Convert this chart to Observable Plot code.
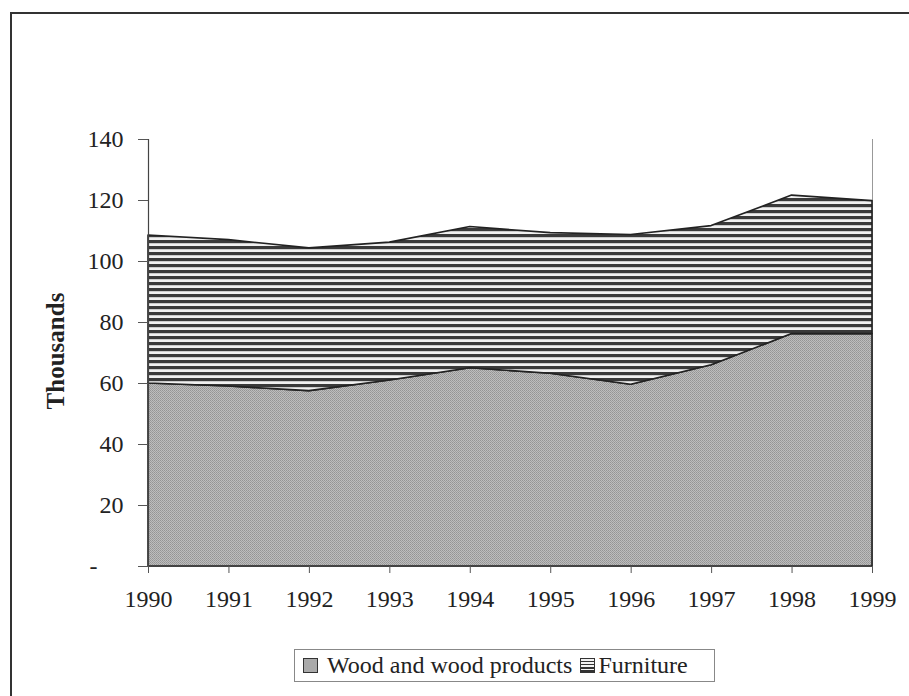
<!DOCTYPE html>
<html>
<head>
<meta charset="utf-8">
<script src="https://cdn.jsdelivr.net/npm/d3@7"></script>
<script src="https://cdn.jsdelivr.net/npm/@observablehq/plot@0.6"></script>
<style>
  html, body { margin: 0; padding: 0; background: #fff; }
  #wrap { position: relative; width: 909px; height: 696px; overflow: hidden; font-family: "Liberation Serif", "Times New Roman", serif; }
  #frame { position: absolute; left: 10px; top: 12px; width: 940px; height: 720px; border-left: 2px solid #333; border-top: 2px solid #333; }
  #chart { position: absolute; left: 0; top: 0; }
  #legend { position: absolute; left: 294px; top: 649px; width: 421px; height: 33px; border: 1px solid #888; box-sizing: border-box;
            display: flex; align-items: center; font-size: 24px; color: #222; white-space: nowrap; }
  .sw { display: inline-block; width: 15px; height: 15px; border: 1.5px solid #333; box-sizing: border-box; }
  .sw.wood { background: #aaa; margin-left: 8px; margin-right: 9px; }
  .sw.furn { background: repeating-linear-gradient(to bottom, #f2f2f2 0px, #f2f2f2 1.6px, #333 1.6px, #333 3.2px); margin-left: 8px; margin-right: 3px; }
</style>
</head>
<body>
<div id="wrap">
  <div id="frame"></div>
  <div id="chart"></div>
  <div id="legend"></div>
</div>
<script>
const years = [1990, 1991, 1992, 1993, 1994, 1995, 1996, 1997, 1998, 1999];
const seriesNames = ["Wood and wood products", "Furniture"];
const wood =      [60.0, 59.0, 57.5, 61.0, 65.0, 63.2, 59.6, 66.0, 76.2, 76.2];
const furniture = [48.5, 48.0, 46.8, 45.2, 46.3, 46.1, 49.1, 45.6, 45.4, 43.6];
const yTicks = [0, 20, 40, 60, 80, 100, 120, 140];
const yTickLabels = ["-", "20", "40", "60", "80", "100", "120", "140"];
const yTitle = "Thousands";

const data = years.flatMap((yr, i) => [
  {year: yr, series: seriesNames[0], value: wood[i]},
  {year: yr, series: seriesNames[1], value: furniture[i]}
]);

const svg = Plot.plot({
  width: 909,
  height: 696,
  marginLeft: 148,
  marginRight: 37,
  marginTop: 139,
  marginBottom: 130,
  style: {fontFamily: "'Liberation Serif', 'Times New Roman', serif", fontSize: "24px", color: "#222", background: "transparent"},
  x: {domain: [1990, 1999]},
  y: {domain: [0, 140]},
  color: {domain: seriesNames, range: ["url(#stipple)", "url(#hatch)"]},
  marks: [
    Plot.ruleX([1999], {y1: 0, y2: 140, stroke: "#999", strokeWidth: 1}),
    Plot.areaY(data, {x: "year", y: "value", z: "series", fill: "series", stroke: "#222", strokeWidth: 1.6, strokeLinejoin: "round"}),
    Plot.ruleX([1990], {y1: 0, y2: 140, stroke: "#444", strokeWidth: 1.2}),
    Plot.ruleY([0], {x1: 1990, x2: 1999, stroke: "#444", strokeWidth: 1.2}),
    Plot.axisY({ticks: yTicks, tickFormat: (d) => d === 0 ? "" : yTickLabels[yTicks.indexOf(d)], tickSize: 10, tickPadding: 15, label: null, stroke: "#555", fontSize: 24}),
    Plot.text([yTicks[0]], {x: 1990, y: (d) => d, text: (d) => yTickLabels[yTicks.indexOf(d)], dx: -51, textAnchor: "end", fontSize: 24}),
    Plot.axisX({ticks: years, tickFormat: (d) => String(d), tickSize: 7, tickPadding: 16, label: null, stroke: "#555", fontSize: 24}),
    Plot.text([yTitle], {frameAnchor: "left", textAnchor: "middle", rotate: -90, dx: -93, dy: -2, fontWeight: "bold", fontSize: 25})
  ]
});

d3.select(svg).insert("defs", ":first-child").html(`
  <pattern id="stipple" patternUnits="userSpaceOnUse" width="2" height="2">
    <rect width="2" height="2" fill="#bdbdbd"/>
    <rect x="0" y="0" width="1" height="1" fill="#949494"/>
    <rect x="1" y="1" width="1" height="1" fill="#9e9e9e"/>
  </pattern>
  <pattern id="hatch" patternUnits="userSpaceOnUse" width="8" height="6">
    <rect width="8" height="6" fill="#f0f0f0"/>
    <rect y="0" width="8" height="3.2" fill="#3a3a3a"/>
  </pattern>
`);

document.getElementById("chart").appendChild(svg);

const legend = document.getElementById("legend");
seriesNames.forEach((name, i) => {
  const sw = document.createElement("span");
  sw.className = "sw " + (i === 0 ? "wood" : "furn");
  legend.appendChild(sw);
  const t = document.createElement("span");
  t.textContent = name;
  legend.appendChild(t);
});
</script>
</body>
</html>
